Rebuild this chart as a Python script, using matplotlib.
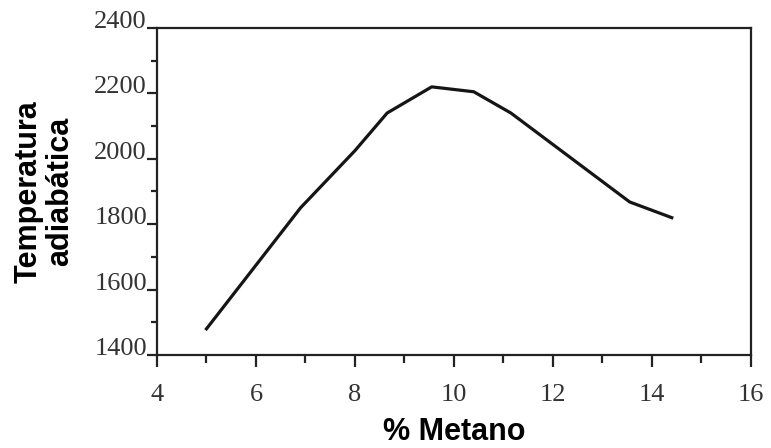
import matplotlib
matplotlib.use("Agg")
import matplotlib.pyplot as plt
from matplotlib.ticker import MultipleLocator

# % metano vs temperatura adiabatica
metano = [5.0, 6.9, 8.0, 8.65, 9.55, 10.4, 11.15, 13.55, 14.4]
temperatura = [1480, 1850, 2025, 2140, 2220, 2205, 2140, 1868, 1820]

xticks = [4, 6, 8, 10, 12, 14, 16]
yticks = [1400, 1600, 1800, 2000, 2200, 2400]

fig = plt.figure(figsize=(7.71, 4.48), dpi=100)
ax = fig.add_axes([0.2036, 0.2076, 0.7704, 0.7299])

ax.plot(metano, temperatura, color='#151515', linewidth=2.3, solid_joinstyle='round')

ax.set_xlim(4, 16)
ax.set_ylim(1400, 2400)
ax.set_xticks(xticks)
ax.set_yticks(yticks)
ax.xaxis.set_minor_locator(MultipleLocator(1))
ax.yaxis.set_minor_locator(MultipleLocator(100))

for sp in ax.spines.values():
    sp.set_linewidth(1.6)
    sp.set_color('#222222')

ax.tick_params(which='both', direction='out', width=1.6, color='#222222')
ax.tick_params(axis='x', which='major', length=8.6, pad=12)
ax.tick_params(axis='x', which='minor', length=5.8)
ax.tick_params(axis='y', which='major', length=7.2, pad=0)
ax.tick_params(axis='y', which='minor', length=4.3)

serif = {'family': 'Liberation Serif', 'size': 19}
ax.set_xticklabels([str(t) for t in xticks], fontdict=serif, color='#333333')
ax.set_yticklabels([str(t) for t in yticks], fontdict=serif, color='#333333')
for lab in ax.get_yticklabels():
    lab.set_va('baseline')

ax.set_xlabel('% Metano', family='Liberation Sans', fontweight='bold',
              fontsize=22, labelpad=8)
ax.set_ylabel('Temperatura\nadiabática', family='Liberation Sans', fontweight='bold',
              fontsize=22, linespacing=1.05, labelpad=14)

fig.savefig('out.png', dpi=100)
